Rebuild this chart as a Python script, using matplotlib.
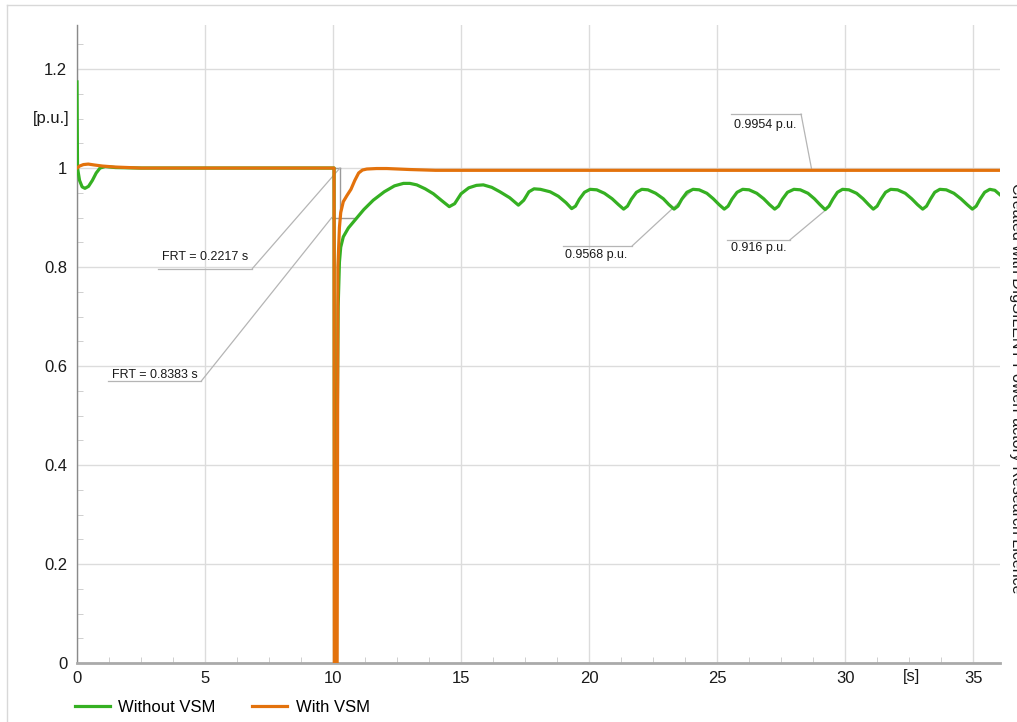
"""Voltage recovery after a fault, with and without VSM control"""

import matplotlib
matplotlib.use('Agg')
import matplotlib.pyplot as plt
from matplotlib.lines import Line2D
from matplotlib.ticker import MultipleLocator, FormatStrFormatter

plt.rcParams['font.family'] = ['Liberation Sans', 'DejaVu Sans']

# --- data -------------------------------------------------------------------
t_without = [0, 0.02, 0.1, 0.2, 0.31, 0.45, 0.6, 0.75, 0.9, 1.1, 1.5, 2.5, 10.04,
             10.06, 10.12, 10.16, 10.2, 10.25, 10.3, 10.4, 10.6, 10.86, 11.2, 11.57,
             12.0, 12.4, 12.75, 13.0, 13.27, 13.6, 13.92, 14.25, 14.54, 14.75, 15.0,
             15.3, 15.6, 15.87, 16.2, 16.52, 16.9, 17.24, 17.45, 17.65, 17.85, 18.1,
             18.48, 18.8, 19.1, 19.32,
             19.47, 19.62, 19.82, 20.04, 20.3, 20.6, 20.9, 21.15, 21.35,
             21.5, 21.65, 21.85, 22.06, 22.3, 22.6, 22.9, 23.12, 23.32,
             23.47, 23.62, 23.82, 24.06, 24.3, 24.6, 24.85, 25.08, 25.28,
             25.43, 25.58, 25.78, 26.0, 26.25, 26.55, 26.82, 27.05, 27.25,
             27.4, 27.55, 27.75, 28.0, 28.25, 28.55, 28.8, 29.02, 29.22,
             29.37, 29.52, 29.7, 29.9, 30.15, 30.45, 30.7, 30.92, 31.1,
             31.25, 31.4, 31.58, 31.78, 32.05, 32.35, 32.6, 32.83, 33.03,
             33.18, 33.33, 33.5, 33.7, 33.95, 34.25, 34.52, 34.77, 34.97,
             35.12, 35.27, 35.45, 35.65, 35.85, 36.05]
v_without = [1.174, 1.0, 0.975, 0.962, 0.959, 0.963, 0.975, 0.99, 1.0, 1.003, 1.001, 1.0, 1.0,
             0.0, 0.0, 0.45, 0.72, 0.81, 0.84, 0.861, 0.879, 0.895, 0.916, 0.935,
             0.952, 0.964, 0.969, 0.969, 0.966, 0.958, 0.948, 0.934, 0.922, 0.928, 0.948,
             0.960, 0.965, 0.966, 0.961, 0.952, 0.940, 0.925, 0.935, 0.952, 0.958, 0.957,
             0.952, 0.943, 0.930, 0.918,
             0.923, 0.937, 0.951, 0.957, 0.956, 0.949, 0.938, 0.926, 0.917,
             0.923, 0.937, 0.951, 0.957, 0.956, 0.949, 0.938, 0.926, 0.917,
             0.923, 0.937, 0.951, 0.957, 0.956, 0.949, 0.938, 0.926, 0.917,
             0.923, 0.937, 0.951, 0.957, 0.956, 0.949, 0.938, 0.926, 0.917,
             0.923, 0.937, 0.951, 0.957, 0.956, 0.949, 0.938, 0.926, 0.916,
             0.923, 0.937, 0.951, 0.957, 0.956, 0.949, 0.938, 0.926, 0.917,
             0.923, 0.937, 0.951, 0.957, 0.956, 0.949, 0.938, 0.926, 0.917,
             0.923, 0.937, 0.951, 0.957, 0.956, 0.949, 0.938, 0.926, 0.917,
             0.923, 0.937, 0.951, 0.957, 0.955, 0.946]

t_with = [0, 0.1, 0.25, 0.44, 0.7, 1.0, 1.5, 2.5, 10.04, 10.05, 10.16, 10.19, 10.25,
          10.3, 10.4, 10.55, 10.7, 10.85, 11.0, 11.15, 11.32, 11.7, 12.1, 13.0, 14.0, 36.05]
v_with = [1.0, 1.004, 1.007, 1.008, 1.006, 1.004, 1.002, 1.0, 1.0, 0.0, 0.0, 0.80, 0.88,
          0.91, 0.932, 0.945, 0.957, 0.975, 0.99, 0.996, 0.998, 0.999, 0.999, 0.997, 0.9954, 0.9954]

series_labels = ['Without VSM', 'With VSM']
series_colors = ['#35b022', '#e3720c']

# FRT marker geometry (fault at 10 s, 0.9 p.u. threshold)
fault_t = 10.0
frt_threshold = 0.9
frt_with_end = 10.27
frt_without_end = 10.85

# (text, target t, target v, text t, text v, rule t0, rule t1, rule v)
annotations = [
    ('FRT = 0.2217 s', 10.27, 1.0, 5.0, 0.820, 3.16, 6.85, 0.797),
    ('FRT = 0.8383 s', 9.95, 0.9, 3.04, 0.582, 1.21, 4.86, 0.570),
    ('0.9954 p.u.', 28.7, 0.9954, 26.87, 1.087, 25.55, 28.28, 1.109),
    ('0.9568 p.u.', 24.07, 0.957, 20.28, 0.824, 19.0, 21.69, 0.843),
    ('0.916 p.u.', 29.26, 0.916, 26.64, 0.838, 25.39, 27.85, 0.855),
]

# --- figure -----------------------------------------------------------------
W, H = 1017, 722
fig = plt.figure(figsize=(W / 100, H / 100), dpi=100)
ax = fig.add_axes([77 / W, 1 - 663 / H, (1000 - 77) / W, (663 - 25) / H])

# light frame around the whole figure
fig.add_artist(Line2D([7 / W, 7 / W], [0, 1 - 5 / H], color='#d8d8d8', lw=1))
fig.add_artist(Line2D([7 / W, 1], [1 - 5 / H, 1 - 5 / H], color='#d8d8d8', lw=1))

ax.set_xlim(0, 36.05)
ax.set_ylim(0, 1.289)
ax.xaxis.set_major_locator(MultipleLocator(5))
ax.xaxis.set_minor_locator(MultipleLocator(1.25))
ax.yaxis.set_major_locator(MultipleLocator(0.2))
ax.yaxis.set_minor_locator(MultipleLocator(0.05))
ax.yaxis.set_major_formatter(FormatStrFormatter('%g'))
ax.grid(True, which='major', color='#dcdcdc', lw=1.0)
ax.set_axisbelow(True)
for side in ('top', 'right'):
    ax.spines[side].set_visible(False)
ax.spines['left'].set_color('#8a8a8a')
ax.spines['left'].set_linewidth(1.0)
ax.spines['bottom'].set_color('#aaaaaa')
ax.spines['bottom'].set_linewidth(2.0)
ax.tick_params(which='both', direction='in', color='#c8c8c8', labelsize=12,
               labelcolor='#1a1a1a')
ax.tick_params(which='major', length=0)
ax.tick_params(which='minor', length=4)
ax.tick_params(axis='x', pad=6)
ax.tick_params(axis='y', pad=7)

# FRT measurement marks
mark = dict(color='#9a9a9a', lw=1.0, zorder=1.5)
ax.plot([frt_with_end, frt_with_end], [frt_threshold, 1.0], **mark)
ax.plot([fault_t, frt_with_end], [1.0, 1.0], **mark)
ax.plot([fault_t - 0.05, frt_without_end], [frt_threshold, frt_threshold], **mark)

ax.plot(t_without, v_without, color=series_colors[0], lw=2.3, label=series_labels[0],
        solid_joinstyle='round', zorder=3)
ax.plot(t_with, v_with, color=series_colors[1], lw=2.3, label=series_labels[1],
        solid_joinstyle='round', zorder=4)

for text, tt, tv, xt, yt, r0, r1, rv in annotations:
    # rule under/over the text, then the leader to the curve
    ax.plot([r0, r1], [rv, rv], color='#b5b5b5', lw=0.9, zorder=2)
    ax.plot([r1, tt], [rv, tv], color='#b5b5b5', lw=0.9, zorder=2)
    ax.text(xt, yt, text, fontsize=9, color='#1a1a1a', ha='center', va='center',
            zorder=5)

fig.text(70 / W, 1 - 118 / H, '[p.u.]', fontsize=12, color='#1a1a1a',
         ha='right', va='center')
fig.text(912 / W, 1 - 677 / H, '[s]', fontsize=12, color='#1a1a1a',
         ha='center', va='center')

fig.text(1009 / W, 1 - 183 / H, 'Created with DIgSILENT PowerFactory Research Licence',
         fontsize=11.5, color='#1a1a1a', rotation=-90, ha='left', va='top')

fig.legend(loc='center left', bbox_to_anchor=(75 / W, 1 - 707 / H), ncol=2,
           frameon=False, fontsize=12, handlelength=2.1, handletextpad=0.5,
           columnspacing=2.2, borderaxespad=0, borderpad=0)

fig.savefig('out.png', dpi=100)
